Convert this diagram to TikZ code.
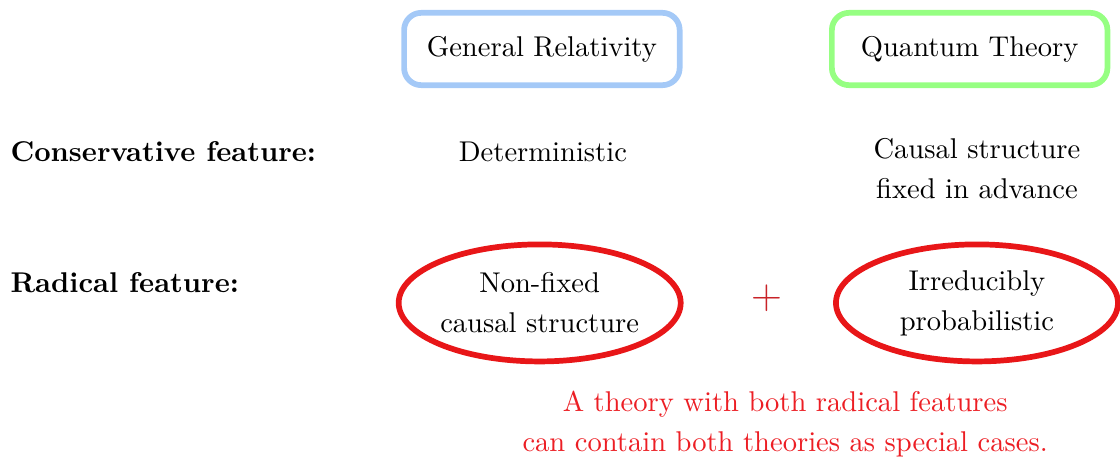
\documentclass[tikz,border=0pt]{standalone}
\usepackage{tikz}
\usetikzlibrary{positioning,shapes.geometric}
\definecolor{grblue}{RGB}{164,201,247}
\definecolor{qtgreen}{RGB}{150,255,130}
\definecolor{radred}{RGB}{232,22,24}
\definecolor{plusred}{RGB}{200,35,40}
\definecolor{notered}{RGB}{236,30,36}
\tikzset{
  theory/.style={draw,rounded corners=6pt,line width=2pt,minimum width=33.9mm,
    minimum height=8.9mm,align=center},
  radical/.style={ellipse,draw=radred,line width=2pt,minimum width=34.7mm,
    minimum height=14.4mm,align=center,inner sep=0pt},
  rowlbl/.style={anchor=west,font=\bfseries,inner sep=0pt},
  feat/.style={align=center,inner sep=0pt},
}

\begin{document}
\begin{tikzpicture}
  \useasboundingbox (0,0) rectangle (13.78,-5.646);
  % theories
  \node[theory,draw=grblue] (GR) at (6.667,-0.603) {General Relativity};
  \node[theory,draw=qtgreen] (QT) at (11.93,-0.603) {Quantum Theory};
  % conservative row
  \node[rowlbl] (cons) at (0.123,-1.87) {Conservative feature:};
  \node[feat] (det) at (6.68,-1.87) {Deterministic};
  \node[feat] (fixed) at (12.02,-2.07) {Causal structure\\[2pt] fixed in advance};
  % radical row
  \node[rowlbl] (rad) at (0.123,-3.48) {Radical feature:};
  \node[radical] (nonfixed) at (6.64,-3.727) {Non-fixed\\[2pt] causal structure};
  \node[radical] (prob) at (12.02,-3.727) {Irreducibly\\[2pt] probabilistic};
  \node[text=plusred,font=\Large] (plus) at (9.43,-3.665) {$+$};
  \node[feat,text=notered] (note) at (9.66,-5.215)
    {A theory with both radical features\\[2pt] can contain both theories as special cases.};
\end{tikzpicture}
\end{document}
